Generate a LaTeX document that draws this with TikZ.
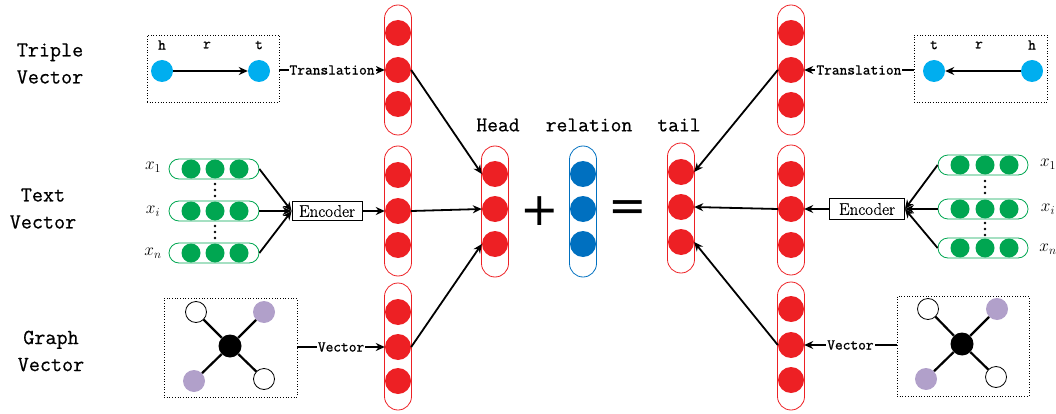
\documentclass[tikz,border=0pt]{standalone}
\usepackage{fontspec}
\usetikzlibrary{arrows.meta}
\newfontfamily\titlefont[FakeBold=0.6]{Latin Modern Mono}
\newfontfamily\labelfont[FakeBold=1.2]{Latin Modern Mono}
\newfontfamily\encfont[FakeBold=0.5]{Latin Modern Roman}
\newfontfamily\opfont{DejaVu Sans}
\definecolor{ballred}{RGB}{237,32,36}
\definecolor{ballblue}{RGB}{0,112,192}
\definecolor{ballcyan}{RGB}{0,174,239}
\definecolor{ballgreen}{RGB}{0,166,81}
\definecolor{ballpurple}{RGB}{177,160,202}
\tikzset{
  pillbase/.style={rectangle, rounded corners=13.5pt, minimum width=27pt, inner sep=0pt, line width=0.8pt},
  redpill/.style={pillbase, draw=ballred},
  bluepill/.style={pillbase, draw=ballblue},
  redball/.style={circle, fill=ballred, minimum size=26pt, inner sep=0pt},
  blueball/.style={circle, fill=ballblue, minimum size=26pt, inner sep=0pt},
  greenpill/.style={rectangle, draw=ballgreen, line width=0.8pt, rounded corners=10pt, minimum width=90pt, minimum height=20pt, inner sep=0pt},
  greenball/.style={circle, fill=ballgreen, minimum size=19pt, inner sep=0pt},
  cyanball/.style={circle, fill=ballcyan, minimum size=22pt, inner sep=0pt},
  hubball/.style={circle, fill=black, minimum size=23pt, inner sep=0pt},
  whiteball/.style={circle, draw=black, line width=0.8pt, fill=white, minimum size=21pt, inner sep=0pt},
  purpleball/.style={circle, fill=ballpurple, minimum size=22pt, inner sep=0pt},
  dotbox/.style={draw=black, dotted, line width=0.7pt, inner sep=0pt},
  encbox/.style={draw=black, line width=0.8pt, fill=white, inner sep=0pt, font=\encfont\fontsize{17}{19}\selectfont},
  title/.style={font=\titlefont\fontsize{21.5}{27}\selectfont, align=center},
  toplabel/.style={font=\titlefont\fontsize{21}{24}\selectfont},
  smalllabel/.style={font=\labelfont\fontsize{15}{17}\selectfont, fill=white, inner sep=1pt},
  letter/.style={font=\labelfont\fontsize{15}{17}\selectfont},
  xlabel/.style={font=\fontsize{17}{19}\selectfont},
  smalldot/.style={circle, fill=black, minimum size=2.6pt, inner sep=0pt},
  opsign/.style={font=\opfont\fontsize{46}{46}\selectfont},
  arr/.style={line width=1.8pt, -{Stealth[length=9pt,width=8pt]}},
  edge/.style={line width=2.2pt},
}
% a column of three balls inside a pill: name, x, pill top, pill bottom, y1, y2, y3, pill style, ball style
\newcommand\makecol[9]{%
  \node[#8, minimum height={#4-#3}] (#1) at (#2,{(#3+#4)/2}) {};
  \node[#9] (#1a) at (#2,#5) {};
  \node[#9] (#1b) at (#2,#6) {};
  \node[#9] (#1c) at (#2,#7) {};
}
% a row of three green balls inside a pill: name, pill centre x, y, ball x1, x2, x3
\newcommand\greenrow[6]{%
  \node[greenpill] (#1) at (#2,#3) {};
  \node[greenball] at (#4,#3) {};
  \node[greenball] at (#5,#3) {};
  \node[greenball] at (#6,#3) {};
}
\begin{document}
\begin{tikzpicture}[x=1pt,y=-1pt]
\useasboundingbox (0,0) rectangle (1056,414);

% row titles
\node[title] (tTriple) at (50,63.5) {Triple\\Vector};
\node[title] (tText) at (43,208.5) {Text\\Vector};
\node[title] (tGraph) at (51,351) {Graph\\Vector};

% left-hand columns
\makecol{L1}{398}{5}{135}{33}{70}{104}{redpill}{redball}
\makecol{L2}{398}{146}{276}{175}{211}{245}{redpill}{redball}
\makecol{L3}{398}{283}{410}{312}{347}{381}{redpill}{redball}
% head + relation = tail
\makecol{H}{495}{146}{277}{174}{209}{244}{redpill}{redball}
\makecol{R}{583}{146}{277}{174}{209}{244}{bluepill}{blueball}
\makecol{T}{681}{143}{273}{172}{207}{242}{redpill}{redball}
% right-hand columns
\makecol{Q1}{791}{5}{135}{33}{70}{105}{redpill}{redball}
\makecol{Q2}{791}{145}{275}{174}{209}{245}{redpill}{redball}
\makecol{Q3}{791}{282}{410}{309}{345}{380}{redpill}{redball}

\node[toplabel] (lHead) at (498,125) {Head};
\node[toplabel] (lRel) at (589,125) {relation};
\node[toplabel] (lTail) at (679,125) {tail};
\node[opsign] (plus) at (540,211) {+};
\node[opsign] (equal) at (628,211) {=};

% triple vector, left
\node[dotbox, minimum width=132pt, minimum height=67pt] (boxTL) at (213,68.5) {};
\node[cyanball] (hL) at (162,71) {};
\node[cyanball] (tL) at (259,71) {};
\node[letter] at (162,45) {h};
\node[letter] at (207,45) {r};
\node[letter] at (259,45) {t};
\draw[arr] (hL) -- (tL);
\draw[arr] (boxTL.east |- L1b) -- node[smalllabel] {Translation} (L1b.west);

% triple vector, right
\node[dotbox, minimum width=133pt, minimum height=67pt] (boxTR) at (980.5,68.5) {};
\node[cyanball] (tR) at (934,71) {};
\node[cyanball] (hR) at (1032,71) {};
\node[letter] at (934,45) {t};
\node[letter] at (979,45) {r};
\node[letter] at (1032,45) {h};
\draw[arr] (hR) -- (tR);
\draw[arr] (boxTR.west |- Q1b) -- node[smalllabel] {Translation} (Q1b.east);

% text vector, left
\greenrow{gL1}{214}{169}{191}{215}{239}
\greenrow{gL2}{214}{211}{191}{215}{239}
\greenrow{gL3}{214}{253}{191}{215}{239}
\foreach \y in {184,190,196,226,232,238} \node[smalldot] at (215,\y) {};
\node[xlabel] at (153,167) {$x_1$};
\node[xlabel] at (153,211) {$x_i$};
\node[xlabel] at (153,253) {$x_n$};
\node[encbox, minimum width=70pt, minimum height=19pt] (encL) at (327,211) {Encoder};
\foreach \g in {gL1,gL2,gL3} \draw[arr] (\g.east) -- (encL.west);
\draw[arr] (encL.east) -- (L2b.west);

% text vector, right
\greenrow{gR1}{983}{165}{960}{985}{1009}
\greenrow{gR2}{983}{209}{960}{985}{1009}
\greenrow{gR3}{983}{248}{960}{985}{1009}
\foreach \y in {181,187,193,223,229,235} \node[smalldot] at (985,\y) {};
\node[xlabel] at (1048,164) {$x_1$};
\node[xlabel] at (1048,209) {$x_i$};
\node[xlabel] at (1048,249) {$x_n$};
\node[encbox, minimum width=75pt, minimum height=21pt] (encR) at (867,209) {Encoder};
\foreach \g in {gR1,gR2,gR3} \draw[arr] (\g.west) -- (encR.east);
\draw[arr] (encR.west) -- (Q2b.east);

% graph vector, left
\node[dotbox, minimum width=133pt, minimum height=99pt] (boxGL) at (230.5,347.5) {};
\node[hubball] (cGL) at (230,346) {};
\node[whiteball] (aGL) at (196,312) {};
\node[purpleball] (bGL) at (264,312) {};
\node[purpleball] (dGL) at (194,381) {};
\node[whiteball] (eGL) at (264,379) {};
\foreach \n in {aGL,bGL,dGL,eGL} \draw[edge] (cGL) -- (\n);
\draw[arr] (boxGL.east |- L3b) -- node[smalllabel] {Vector} (L3b.west);

% graph vector, right
\node[dotbox, minimum width=132pt, minimum height=100pt] (boxGR) at (963,346) {};
\node[hubball] (cGR) at (962,344) {};
\node[whiteball] (aGR) at (928,309) {};
\node[purpleball] (bGR) at (997,309) {};
\node[purpleball] (dGR) at (926,379) {};
\node[whiteball] (eGR) at (996,377) {};
\foreach \n in {aGR,bGR,dGR,eGR} \draw[edge] (cGR) -- (\n);
\draw[arr] (boxGR.west |- Q3b) -- node[smalllabel] {Vector} (Q3b.east);

% into head and tail
\draw[arr] (L1b.east) -- (Ha.west);
\draw[arr] (L2b.east) -- (Hb.west);
\draw[arr] (L3b.east) -- (Hc.west);
\draw[arr] (Q1b.west) -- (Ta.east);
\draw[arr] (Q2b.west) -- (Tb.east);
\draw[arr] (Q3b.west) -- (Tc.east);
\end{tikzpicture}
\end{document}
